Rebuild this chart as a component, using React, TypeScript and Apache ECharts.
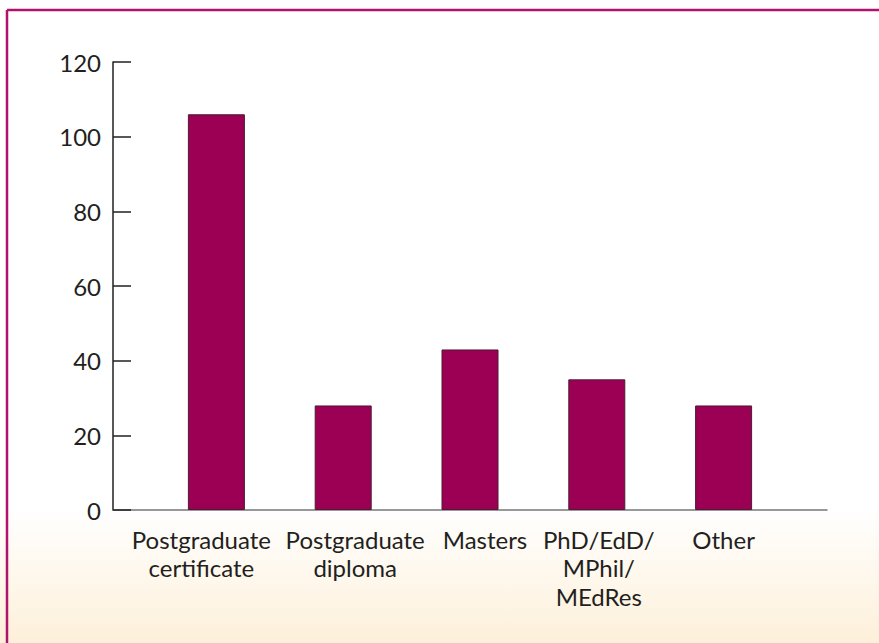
import React, { useEffect, useRef } from "react";
import * as echarts from "echarts";

const categories = [
  "Postgraduate\ncertificate",
  "Postgraduate\ndiploma",
  "Masters",
  "PhD/EdD/\nMPhil/\nMEdRes",
  "Other",
];
const values = [106, 28, 43, 35, 28];
const yTicks = [0, 20, 40, 60, 80, 100, 120];

// horizontal nudge (px) of each category label relative to its bar centre
const labelShift = [-15, 12, 15, 2, 0];

const FONT = "Lato, 'Noto Sans', sans-serif";

export default function App() {
  const ref = useRef<HTMLDivElement>(null);
  useEffect(() => {
    document.body.style.margin = "0";
    if (!ref.current) return;
    const chart = echarts.init(ref.current, null, { renderer: "svg" });
    const catData = categories.map((c, i) => {
      const d = labelShift[i];
      return {
        value: c,
        textStyle: {
          padding: d >= 0 ? [0, 0, 0, 2 * d] : [0, -2 * d, 0, 0],
        },
      };
    });
    chart.setOption({
      animation: false,
      backgroundColor: {
        type: "linear",
        x: 0,
        y: 0,
        x2: 0,
        y2: 1,
        colorStops: [
          { offset: 0, color: "#ffffff" },
          { offset: 0.79, color: "#ffffff" },
          { offset: 1, color: "#fdf0da" },
        ],
      },
      graphic: [
        {
          type: "line",
          shape: { x1: 7, y1: 10, x2: 879, y2: 10 },
          style: { stroke: "#b3126c", lineWidth: 2.5 },
        },
        {
          type: "line",
          shape: { x1: 7, y1: 10, x2: 7, y2: 643 },
          style: { stroke: "#b3126c", lineWidth: 2.5 },
        },
      ],
      grid: [
        { left: 113, right: 52, top: 62, bottom: 133, containLabel: false },
        { left: 153, right: 92, top: 62, bottom: 133, containLabel: false },
      ],
      xAxis: [
        {
          type: "value",
          gridIndex: 0,
          min: 0,
          max: 1,
          axisLine: { show: true, lineStyle: { color: "#777777", width: 1.5 } },
          axisTick: { show: false },
          axisLabel: { show: false },
          splitLine: { show: false },
        },
        {
          type: "category",
          gridIndex: 1,
          data: catData,
          axisLine: { show: false },
          axisTick: { show: false },
          axisLabel: {
            color: "#231f20",
            fontSize: 24,
            fontFamily: FONT,
            lineHeight: 28.5,
            margin: 15,
            interval: 0,
            hideOverlap: false,
            verticalAlign: "top",
          },
        },
      ],
      yAxis: [
        {
          type: "value",
          gridIndex: 0,
          min: yTicks[0],
          max: yTicks[yTicks.length - 1],
          interval: 20,
          axisLine: { show: true, lineStyle: { color: "#231f20", width: 1.5 } },
          axisTick: {
            show: true,
            inside: true,
            length: 18,
            lineStyle: { color: "#231f20", width: 1.5 },
          },
          axisLabel: {
            color: "#231f20",
            fontSize: 24,
            fontFamily: FONT,
            margin: 12,
          },
          splitLine: { show: false },
        },
        {
          type: "value",
          gridIndex: 1,
          min: yTicks[0],
          max: yTicks[yTicks.length - 1],
          interval: 20,
          show: false,
        },
      ],
      series: [
        {
          type: "bar",
          xAxisIndex: 1,
          yAxisIndex: 1,
          data: values,
          barWidth: 57,
          itemStyle: {
            color: "#9b0054",
            borderColor: "#4d1a35",
            borderWidth: 1,
          },
        },
      ],
    });
    return () => chart.dispose();
  }, []);
  return <div ref={ref} style={{ width: 879, height: 643 }} />;
}
